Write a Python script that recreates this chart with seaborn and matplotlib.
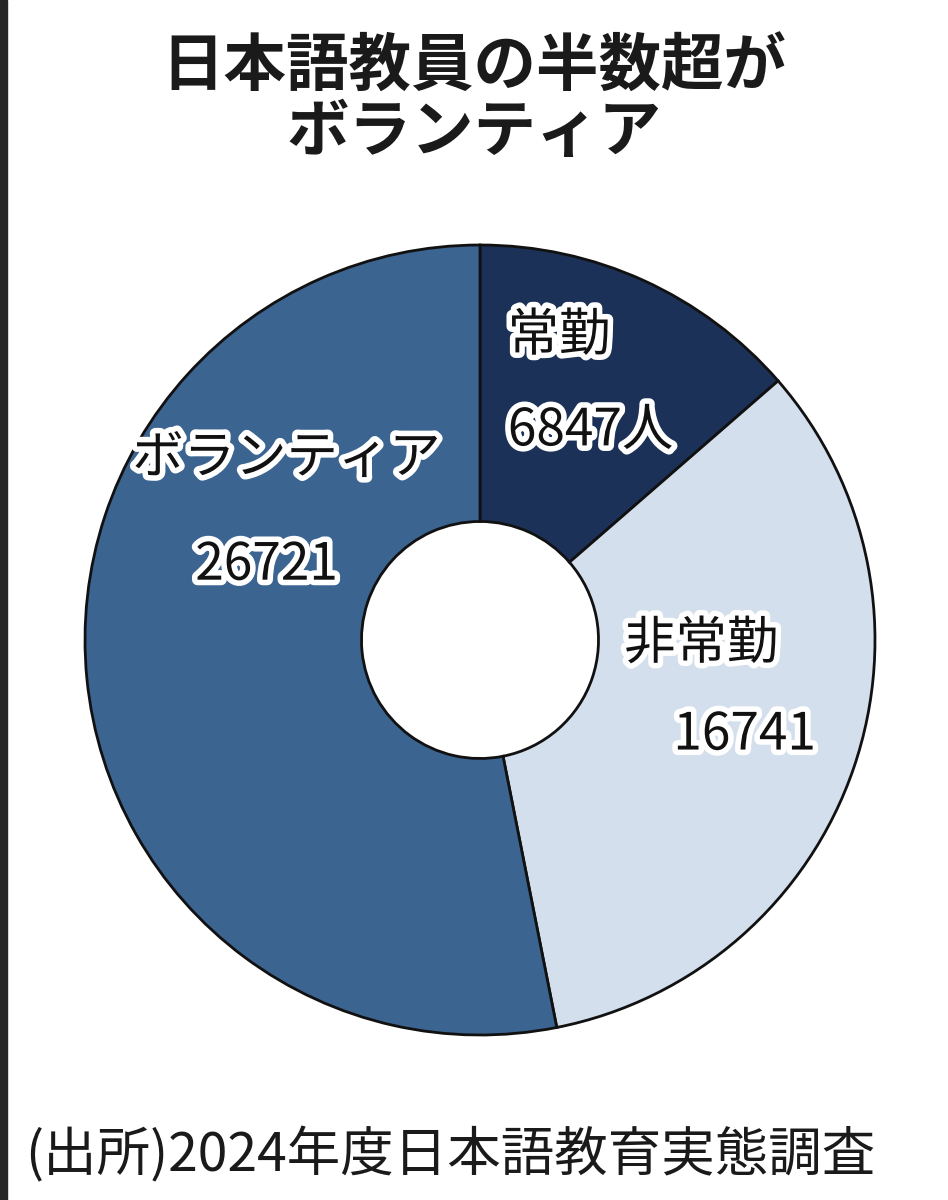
import matplotlib
matplotlib.use("Agg")
import matplotlib.pyplot as plt
import matplotlib.patheffects as pe
from matplotlib.patches import Rectangle
import seaborn as sns

# data
categories = ["常勤", "非常勤", "ボランティア"]
values = [6847, 16741, 26721]
value_labels = ["6847人", "16741", "26721"]
colors = ["#1c3157", "#d3dfec", "#3b6491"]

title = "日本語教員の半数超が\nボランティア"
source = "(出所)2024年度日本語教育実態調査"

sns.set_theme(style="white")
plt.rcParams["font.family"] = ["Noto Sans CJK JP", "DejaVu Sans"]

fig = plt.figure(figsize=(9.48, 12), dpi=100)
fig.patch.set_facecolor("white")

# dark strip at left edge
fig.patches.append(Rectangle((0, 0), 7 / 948, 1, transform=fig.transFigure,
                             color="#262626", zorder=5))

ax = fig.add_axes([85 / 948, 165 / 1200, 790 / 948, 790 / 1200])
ax.pie(values, colors=colors, startangle=90, counterclock=False, radius=1,
       wedgeprops=dict(width=0.70, edgecolor="#111111", linewidth=2))
ax.set_xlim(-1, 1)
ax.set_ylim(-1, 1)
ax.set_aspect("equal")
ax.axis("off")

# label placement (data coords of the donut)
name_pos = [(0.20, 0.77), (0.56, -0.01), (-0.49, 0.46)]
value_pos = [(0.28, 0.53), (0.67, -0.24), (-0.54, 0.19)]
halo = [pe.withStroke(linewidth=8, foreground="white")]
for name, val, npos, vpos in zip(categories, value_labels, name_pos, value_pos):
    ax.text(*npos, name, ha="center", va="center", fontsize=37,
            color="#111111", path_effects=halo)
    ax.text(*vpos, val, ha="center", va="center", fontsize=37,
            color="#111111", path_effects=halo)

fig.text(0.5, 1 - 100 / 1200, title, ha="center", va="center", fontsize=45,
         fontweight="bold", color="#1a1a1a", linespacing=1.05)
fig.text(0.475, 1 - 1155 / 1200, source, ha="center", va="center",
         fontsize=38.5, color="#1a1a1a")

fig.savefig("out.png", dpi=100)
